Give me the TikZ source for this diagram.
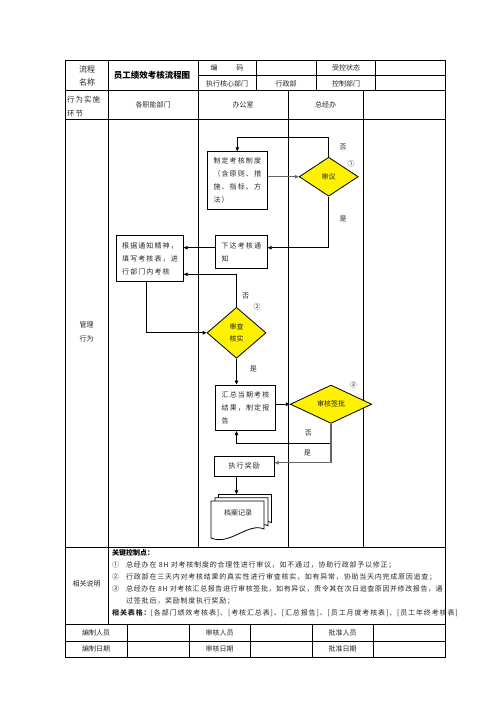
\documentclass[tikz,border=0pt]{standalone}
\usepackage{fontspec}
\newfontfamily\cjk{Noto Sans CJK SC}
\newfontfamily\cjksp[LetterSpace=16]{Noto Sans CJK SC}
\newfontfamily\cjkd[LetterSpace=11]{Noto Sans CJK SC}
\newfontfamily\cjkdn[LetterSpace=8.5]{Noto Sans CJK SC}
\newfontfamily\cjkdw[LetterSpace=12.5]{Noto Sans CJK SC}
\newfontfamily\cjkh[LetterSpace=13]{Noto Sans CJK SC}
\usetikzlibrary{shapes.geometric,arrows.meta,calc}
\begin{document}
\begin{tikzpicture}[x=1pt,y=-1pt,
  tl/.style={line width=0.8pt,draw=black},
  txt/.style={font=\cjk\fontsize{7}{12}\selectfont, text=black!85, inner sep=0},
  htxt/.style={font=\cjk\fontsize{8}{12}\selectfont, text=black!85, inner sep=0},
  dtxt/.style={font=\cjkd\fontsize{7}{12}\selectfont, text=black!85, inner sep=0, anchor=west},
  box/.style={draw, line width=0.8pt, fill=white, font=\cjksp\fontsize{7}{12.9}\selectfont, align=left, inner sep=0, text=black!85},
  dia/.style={diamond, draw, line width=0.8pt, fill=yellow, inner sep=0, font=\cjk\fontsize{7}{12.3}\selectfont, align=center, text=black!85},
  flow/.style={line width=0.8pt, -{Triangle[length=4pt,width=3.5pt]}},
  gflow/.style={flow, draw=black!60, line width=1.3pt},
  lbl/.style={font=\cjk\fontsize{7}{8}\selectfont, inner sep=0, text=black!85},
  sheet/.style={draw, line width=0.8pt, fill=white}]
\useasboundingbox (0,0) rectangle (496,702);
% ---------------- table frame
\draw[tl] (65.5,60.5) rectangle (445,657);
\foreach \yy in {90,119,547,624,641} \draw[tl] (65.5,\yy) -- (445,\yy);
\draw[tl] (198,75.5) -- (445,75.5);
\draw[tl] (108,60.5) -- (108,624);
\draw[tl] (198,60.5) -- (198,547);
\foreach \xx in {256.5,316,375} \draw[tl] (\xx,60.5) -- (\xx,90);
\foreach \xx in {288,363.5} \draw[tl] (\xx,90) -- (\xx,547);
\foreach \xx in {127,189,250,312,373} \draw[tl] (\xx,624) -- (\xx,657);
% ---------------- header texts
\node[htxt] (h1) at (87,69) {流程};
\node[htxt] (h2) at (87,82.5) {名称};
\node[htxt, font=\cjk\bfseries\fontsize{8.5}{12}\selectfont, text=black] (h3) at (152,75.5) {员工绩效考核流程图};
\node[txt] (h4) at (227,68) {编\hspace{19pt}码};
\node[txt] (h5) at (346,68) {受控状态};
\node[txt] (h6) at (227,83.5) {执行核心部门};
\node[txt] (h7) at (286,83.5) {行政部};
\node[txt] (h8) at (346,83.5) {控制部门};
\node[txt, anchor=west, font=\cjkh\fontsize{7.5}{12}\selectfont] (h9) at (67,99.5) {行为实施};
\node[txt, anchor=west, font=\cjkh\fontsize{7.5}{12}\selectfont] (h10) at (67,114) {环节};
\node[txt] (h11) at (153,104.5) {各职能部门};
\node[txt] (h12) at (243,104.5) {办公室};
\node[txt] (h13) at (325.5,104.5) {总经办};
\node[txt] (h14) at (86.5,325) {管理};
\node[txt] (h15) at (86.5,339) {行为};
% ---------------- flow nodes
\node[box, minimum width=60pt, minimum height=57.6pt] (p1) at (237.3,180.5) {制定考核制度\\（含原则、措\\施、指标、方\\法）};
\node[dia, minimum width=59pt, minimum height=39pt] (d1) at (328.7,176.7) {审议};
\node[box, minimum width=52pt, minimum height=32.6pt] (p2) at (241.3,252) {下达考核通\\知};
\node[box, minimum width=66.6pt, minimum height=46pt] (p3) at (150,258.7) {根据通知精神，\\填写考核表，进\\行部门内考核};
\node[dia, minimum width=59pt, minimum height=51pt] (d2) at (236.5,332.8) {审查\\核实};
\node[box, minimum width=60.4pt, minimum height=45.7pt] (p4) at (245.5,407.8) {汇总当期考核\\结果，制定报\\告};
\node[dia, minimum width=81.4pt, minimum height=38.3pt] (d3) at (331,404.2) {审核签批};
\node[box, minimum width=60pt, minimum height=19.3pt, align=center] (p5) at (244.3,466.3) {执行奖励};
% document stack
\foreach \dx/\dy in {7.5/-6.5,4/-3.3,0/0}
  \draw[sheet] (211+\dx,501+\dy) -- (264+\dx,501+\dy) -- (264+\dx,529+\dy)
     .. controls (248+\dx,522+\dy) and (230+\dx,546+\dy) .. (211+\dx,538+\dy) -- cycle;
\node[minimum width=61pt, minimum height=44pt, inner sep=0] (doc) at (241.5,516.5) {};
\node[lbl] (doctxt) at (238,513) {档案记录};
% ---------------- connectors
\draw[gflow] (d1.west -| p1.east) -- (d1.west);
\draw[flow] (d1.north) -- ++(0,-19) -| (p1.north);
\draw[flow] (d1.south) |- ([yshift=4.3pt]p2.east);
\draw[flow] ([yshift=4.3pt]p2.west) -- ([yshift=4.3pt]p2.west -| p3.east);
\draw[flow] (d2.north) |- ([yshift=-15.6pt]p3.east);
\draw[flow] ([xshift=-3.3pt]p3.south) |- (d2.west);
\draw[flow] (d2.south) -- (d2.south |- p4.north);
\draw[flow] (d3.west -| p4.east) -- (d3.west);
\draw[flow] (d3.south) -- ++(0,20) -| (d2.south |- p4.south);
\draw[gflow] (d3.south) |- ([yshift=3.6pt]p5.east);
\draw[flow] (d2.south |- p5.south) -- (d2.south |- doc.north);
% labels
\node[lbl] (n1) at (343,147) {否};
\node[lbl] (c1) at (351,164.3) {①};
\node[lbl] (y1) at (343,218.7) {是};
\node[lbl] (n2) at (245.7,296) {否};
\node[lbl] (c2) at (257,307.3) {②};
\node[lbl] (y2) at (253.3,369) {是};
\node[lbl] (c3) at (353.3,385) {③};
\node[lbl] (n3) at (308.3,433) {否};
\node[lbl] (y3) at (307.3,453.3) {是};
% ---------------- description
\node[txt] (r1) at (86.5,584) {相关说明};
\node[dtxt, font=\cjk\bfseries\fontsize{7}{12}\selectfont, text=black] (k0) at (112,553) {关键控制点：};
\node[dtxt] (k1n) at (112,565) {①};
\node[dtxt] (k1) at (126,565) {总经办在 8H 对考核制度的合理性进行审议，如不通过，协助行政部予以修正；};
\node[dtxt] (k2n) at (112,577) {②};
\node[dtxt] (k2) at (126,577) {行政部在三天内对考核结果的真实性进行审查核实，如有异常，协助当天内完成原因追查；};
\node[dtxt] (k3n) at (112,589) {③};
\node[dtxt, font=\cjkdn\fontsize{7}{12}\selectfont] (k3) at (126,589) {总经办在 8H 对考核汇总报告进行审核签批，如有异议，责令其在次日追查原因并修改报告，通};
\node[dtxt] (k4) at (126,601) {过签批后，奖励制度执行奖励；};
\node[dtxt, font=\cjkdw\fontsize{7}{12}\selectfont] (k5) at (112,613) {{\bfseries 相关表格：}[各部门绩效考核表]、[考核汇总表]、[汇总报告]、[员工月度考核表]、[员工年终考核表]};
% ---------------- signature rows
\node[txt] (s1) at (96,632.5) {编制人员};
\node[txt] (s2) at (219.5,632.5) {审核人员};
\node[txt] (s3) at (342.5,632.5) {批准人员};
\node[txt] (s4) at (96,649) {编制日期};
\node[txt] (s5) at (219.5,649) {审核日期};
\node[txt] (s6) at (342.5,649) {批准日期};
\end{tikzpicture}
\end{document}
